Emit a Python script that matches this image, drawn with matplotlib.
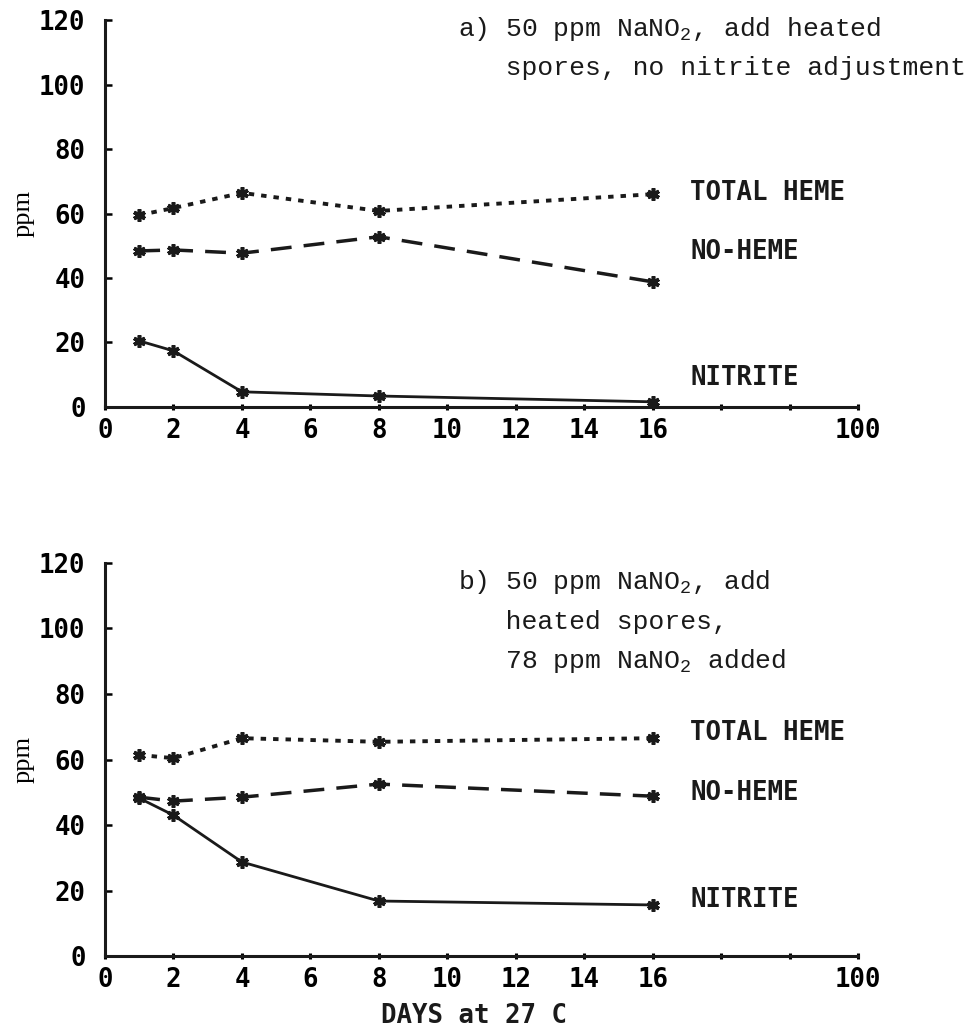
import matplotlib.pyplot as plt

# days sampled (x axis runs linear 0-16, then a break, last tick labelled 100)
days = [1, 2, 4, 8, 16]
xticks = [0, 2, 4, 6, 8, 10, 12, 14, 16, 18, 20, 22]
xticklabels = ['0', '2', '4', '6', '8', '10', '12', '14', '16', '', '', '100']
yticks = [0, 20, 40, 60, 80, 100, 120]

# a) 50 ppm NaNO2, heated spores, no nitrite adjustment
a_total_heme = [59.5, 61.7, 66.4, 60.8, 66.0]
a_no_heme = [48.4, 48.7, 47.7, 52.8, 38.8]
a_nitrite = [20.5, 17.4, 4.7, 3.4, 1.6]

# b) 50 ppm NaNO2, heated spores, 78 ppm NaNO2 added
b_total_heme = [61.4, 60.4, 66.5, 65.4, 66.5]
b_no_heme = [48.5, 47.3, 48.5, 52.5, 48.8]
b_nitrite = [48.2, 43.0, 28.7, 16.8, 15.6]

series_names = ['TOTAL HEME', 'NO-HEME', 'NITRITE']
a_label_y = [66.4, 48.0, 9.0]
b_label_y = [68.0, 49.8, 17.0]

a_note = ['a) 50 ppm NaNO$_2$, add heated', '   spores, no nitrite adjustment']
b_note = ['b) 50 ppm NaNO$_2$, add', '   heated spores,', '   78 ppm NaNO$_2$ added']

plt.rcParams['mathtext.fontset'] = 'custom'
plt.rcParams['mathtext.rm'] = 'Liberation Mono'
plt.rcParams['mathtext.it'] = 'Liberation Mono'

plot_font = dict(family='DejaVu Sans Mono', fontsize=18.5, fontweight='bold')
type_font = dict(family='Liberation Mono', fontsize=19)

fig = plt.figure(figsize=(9.72, 10.29), dpi=100)
ax_a = fig.add_axes([0.108, 0.6045, 0.775, 0.376])
ax_b = fig.add_axes([0.108, 0.0709, 0.775, 0.382])

styles = [dict(ls=(0, (1.4, 1.8)), lw=2.8),
          dict(ls=(0, (6, 3.5)), lw=2.5),
          dict(ls='-', lw=2.0)]


def draw_panel(ax, values, label_y, note, note_y):
    for vals, st, name, ly in zip(values, styles, series_names, label_y):
        ax.plot(days, vals, color='#1a1a1a', marker=(6, 2, 0), ms=9, mew=2.6,
                **st)
        ax.text(days[-1] + 1.1, ly, name, va='center', ha='left',
                color='#1a1a1a', **plot_font)
    ax.set_xlim(0, 22)
    ax.set_ylim(0, 120)
    ax.spines['top'].set_visible(False)
    ax.spines['right'].set_visible(False)
    for s in ['left', 'bottom']:
        ax.spines[s].set_linewidth(2.2)
        ax.spines[s].set_color('#1a1a1a')
    ax.set_xticks(xticks)
    ax.set_xticklabels(xticklabels, **plot_font)
    ax.set_yticks(yticks)
    ax.set_yticklabels([str(v) for v in yticks], **plot_font)
    ax.tick_params(axis='y', direction='in', length=5, width=1.8, pad=14)
    ax.tick_params(axis='x', direction='inout', length=4, width=2.2, pad=6)
    ax.set_ylabel('ppm', family='Liberation Serif', fontsize=19, labelpad=3)
    for i, line in enumerate(note):
        fig.text(0.471, note_y - i * 0.038, line, ha='left', va='center',
                 color='#1a1a1a', **type_font)


draw_panel(ax_a, [a_total_heme, a_no_heme, a_nitrite], a_label_y, a_note, 0.972)
draw_panel(ax_b, [b_total_heme, b_no_heme, b_nitrite], b_label_y, b_note, 0.434)

fig.text(0.488, 0.013, 'DAYS at 27 C', ha='center', va='center',
         color='#1a1a1a', **plot_font)

fig.savefig('out.png', dpi=100, facecolor='white')
